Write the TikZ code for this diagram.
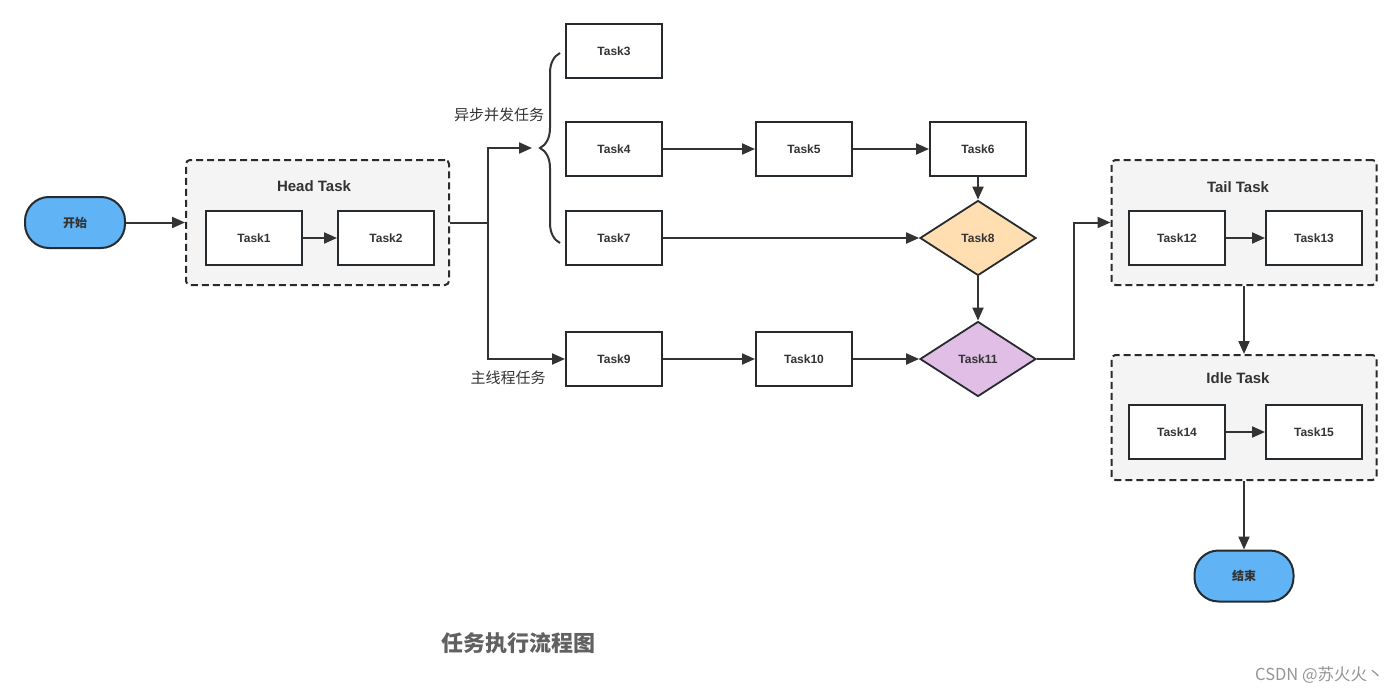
\documentclass[tikz,border=0pt]{standalone}
\usepackage{fontspec}
\setmainfont{Liberation Sans}
\newfontfamily\cjk{Noto Sans CJK SC}
\usetikzlibrary{arrows.meta,shapes.geometric,decorations.pathreplacing,calc}
\definecolor{lnc}{HTML}{333333}
\definecolor{bx}{HTML}{262B30}
\definecolor{grpc}{HTML}{F4F4F4}
\definecolor{startc}{HTML}{60B3F5}
\definecolor{orc}{HTML}{FFDFB1}
\definecolor{puc}{HTML}{E0BEE6}
\tikzset{
  task/.style={draw=bx, line width=2pt, fill=white, minimum width=96pt, minimum height=54pt, inner sep=0pt, font=\fontsize{12}{14}\selectfont\bfseries, text=lnc},
  grpbox/.style={draw=bx, dash pattern=on 7pt off 4pt, line width=2pt, fill=grpc, rounded corners=4pt, minimum height=125pt, inner sep=0pt},
  grplabel/.style={font=\fontsize{15}{17}\selectfont\bfseries, text=lnc, inner sep=0pt},
  term/.style={draw=bx, line width=2pt, fill=startc, rounded corners=24pt, minimum width=100pt, minimum height=51pt, inner sep=0pt, font=\cjk\fontsize{12}{14}\selectfont\bfseries, text=lnc},
  dia/.style={diamond, draw=bx, line width=1.8pt, minimum width=116pt, minimum height=75pt, inner sep=0pt, font=\fontsize{12}{14}\selectfont\bfseries, text=lnc},
  arr/.style={draw=lnc, line width=2pt, -{Triangle[length=13pt,width=11pt]}},
  plain/.style={draw=lnc, line width=2pt},
  cjklabel/.style={font=\cjk\fontsize{15}{17}\selectfont, text=lnc, inner sep=0pt}
}
\begin{document}
\begin{tikzpicture}[x=1pt,y=-1pt]
\useasboundingbox (0,0) rectangle (1400,693);
% containers
\node[grpbox, minimum width=263pt] (head) at (317.5,222.5) {};
\node[grplabel] (headlabel) at (314,186) {Head Task};
\node[grpbox, minimum width=265pt] (tail) at (1244,222.5) {};
\node[grplabel] (taillabel) at (1238,187) {Tail Task};
\node[grpbox, minimum width=265pt] (idle) at (1244,417.5) {};
\node[grplabel] (idlelabel) at (1238,378) {Idle Task};
% terminals
\node[term] (start) at (75,222.5) {开始};
\node[term, minimum width=99pt] (end) at (1244,576) {结束};
% tasks
\node[task] (t1) at (254,238) {Task1};
\node[task] (t2) at (386,238) {Task2};
\node[task] (t3) at (614,51) {Task3};
\node[task] (t4) at (614,149) {Task4};
\node[task] (t7) at (614,238) {Task7};
\node[task] (t9) at (614,359) {Task9};
\node[task] (t5) at (804,149) {Task5};
\node[task] (t6) at (978,149) {Task6};
\node[task] (t10) at (804,359) {Task10};
\node[dia, fill=orc] (t8) at (978,238) {Task8};
\node[dia, fill=puc] (t11) at (978,359) {Task11};
\node[task] (t12) at (1177,238) {Task12};
\node[task] (t13) at (1314,238) {Task13};
\node[task] (t14) at (1177,432) {Task14};
\node[task] (t15) at (1314,432) {Task15};
% labels
\node[cjklabel] (async) at (499,115) {异步并发任务};
\node[cjklabel] (mainth) at (508,378) {主线程任务};
\node[font=\cjk\fontsize{22}{25}\selectfont\bfseries, text=black!62, inner sep=0pt] (title) at (518,643) {任务执行流程图};
\node[font=\cjk\fontsize{16.5}{19}\selectfont, text=black!42, inner sep=0pt, anchor=west] (csdn) at (1255,675) {CSDN @苏火火丶};
% coordinates
\coordinate (split) at (488,222.5);
\coordinate (bt) at (532,148);
\coordinate (br1) at (560,243);
\coordinate (br2) at (560,53);
% brace
\draw[plain, decorate, decoration={brace, amplitude=20pt, aspect=0.5}] (br1) -- (br2);
% connectors
\draw[arr] (start) -- (head);
\draw[arr] (t1) -- (t2);
\draw[plain] (head.east) -- (split);
\draw[arr] (split) |- (bt);
\draw[arr] (split) |- (t9.west);
\draw[arr] (t4) -- (t5);
\draw[arr] (t5) -- (t6);
\draw[arr] (t6) -- (t8);
\draw[arr] (t7) -- (t8);
\draw[arr] (t8) -- (t11);
\draw[arr] (t9) -- (t10);
\draw[arr] (t10) -- (t11);
\draw[arr] (t11.east) -| ($(t11.east)!0.5!(tail.west)$) |- (tail.west);
\draw[arr] (t12) -- (t13);
\draw[arr] (tail.south) -- (idle.north);
\draw[arr] (t14) -- (t15);
\draw[arr] (idle.south) -- (end.north);
\end{tikzpicture}
\end{document}
